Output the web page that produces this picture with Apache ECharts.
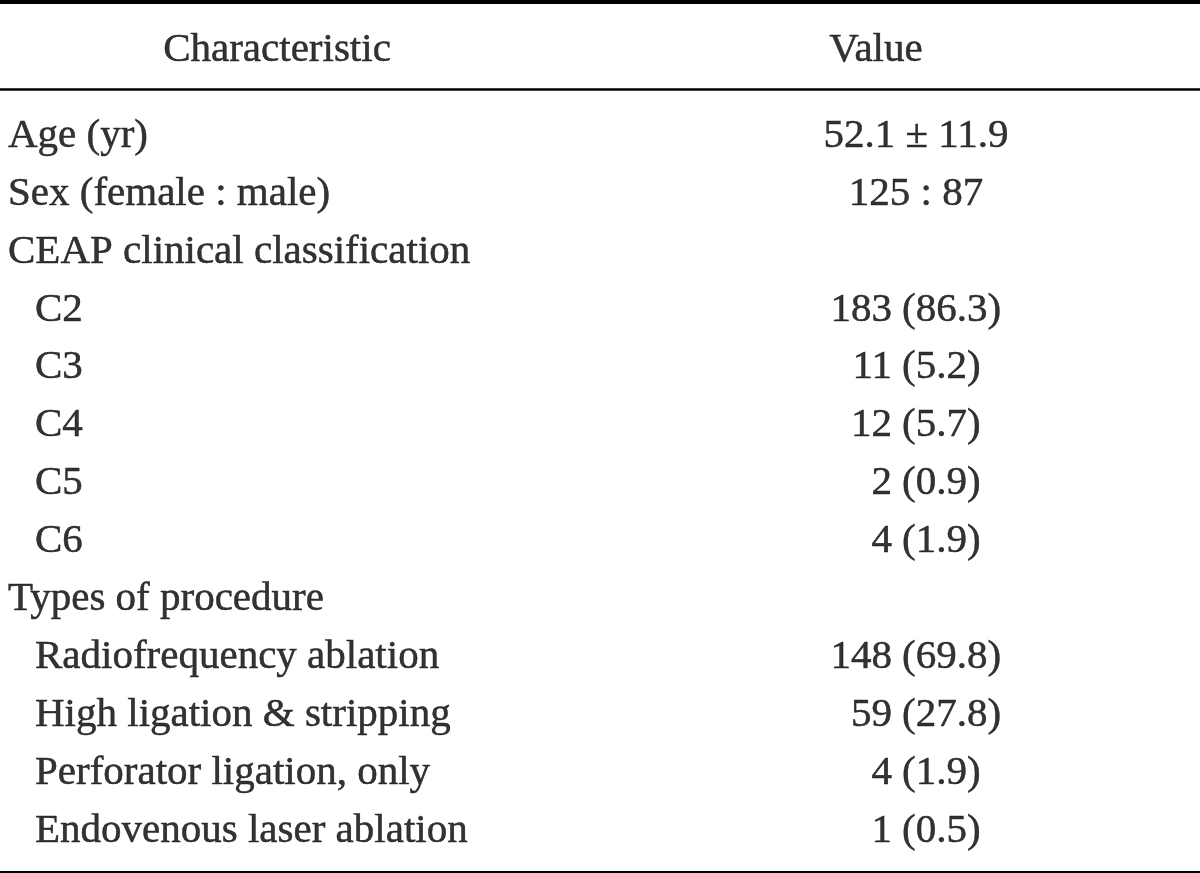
<!DOCTYPE html>
<html>
<head>
<meta charset="utf-8">
<script src="https://cdn.jsdelivr.net/npm/echarts@6/dist/echarts.min.js"></script>
<style>
  html, body { margin: 0; padding: 0; background: #fff; }
  #chart { width: 1200px; height: 873px; }
</style>
</head>
<body>
<div id="chart"></div>
<script>
// ---- data ----
const headers = ['Characteristic', 'Value'];
const rowLabels = [
  'Age (yr)',
  'Sex (female : male)',
  'CEAP clinical classification',
  'C2',
  'C3',
  'C4',
  'C5',
  'C6',
  'Types of procedure',
  'Radiofrequency ablation',
  'High ligation & stripping',
  'Perforator ligation, only',
  'Endovenous laser ablation'
];
const rowLevels = [0, 0, 0, 1, 1, 1, 1, 1, 0, 1, 1, 1, 1];
const summaryValues = ['52.1 ± 11.9', '125 : 87', null, null, null, null, null, null, null, null, null, null, null];
const counts = [null, null, null, 183, 11, 12, 2, 4, null, 148, 59, 4, 1];
const percents = [null, null, null, 86.3, 5.2, 5.7, 0.9, 1.9, null, 69.8, 27.8, 1.9, 0.5];

// ---- layout (pixels / row units) ----
const W = 1200, H = 873;
const firstRowY = 133, rowStep = 57.92;
const toRow = y => (y - firstRowY) / rowStep;
const yMin = toRow(0), yMax = toRow(H);
const headerRow = toRow(47);
const xLeft = [8, 35];
const xHeadChar = 277, xHeadVal = 876;
const xCountRight = 892, xPctLeft = 902, xSummary = 916;
const FONT = 'Liberation Serif';
const FS = 41;

const baseLabel = {
  show: true,
  color: '#000',
  fontFamily: FONT,
  fontSize: FS,
  fontWeight: 'normal',
  position: 'inside',
  verticalAlign: 'middle',
  offset: [0, 3],
  textBorderColor: '#000',
  textBorderWidth: 0.5
};

function textSeries(name, data, align) {
  return {
    name,
    type: 'scatter',
    symbol: 'circle',
    symbolSize: 1,
    itemStyle: { color: 'rgba(0,0,0,0)' },
    silent: true,
    data,
    label: Object.assign({}, baseLabel, {
      align,
      formatter: p => p.data[2]
    })
  };
}

const leftData = rowLabels.map((t, i) => [xLeft[rowLevels[i]], i, t]);
const countData = [];
const pctData = [];
counts.forEach((c, i) => {
  if (c !== null) countData.push([xCountRight, i, String(c)]);
});
percents.forEach((p, i) => {
  if (p !== null) pctData.push([xPctLeft, i, '(' + p.toFixed(1) + ')']);
});
const summaryData = [];
summaryValues.forEach((s, i) => {
  if (s !== null) summaryData.push([xSummary, i, s]);
});
const headerData = [[xHeadChar, headerRow, headers[0]], [xHeadVal, headerRow, headers[1]]];

const headerSeries = textSeries('header', headerData, 'center');
headerSeries.markLine = {
  silent: true,
  symbol: ['none', 'none'],
  label: { show: false },
  animation: false,
  data: [
    { yAxis: toRow(2), lineStyle: { color: '#000', width: 4, type: 'solid' } },
    { yAxis: toRow(89), lineStyle: { color: '#000', width: 2.5, type: 'solid' } },
    { yAxis: toRow(871.8), lineStyle: { color: '#000', width: 3, type: 'solid' } }
  ]
};

const chart = echarts.init(document.getElementById('chart'), null, { renderer: 'canvas' });
chart.setOption({
  animation: false,
  backgroundColor: '#fff',
  grid: { left: 0, right: 0, top: 0, bottom: 0, containLabel: false },
  xAxis: { type: 'value', min: 0, max: W, show: false },
  yAxis: { type: 'value', min: yMin, max: yMax, inverse: true, show: false },
  series: [
    headerSeries,
    textSeries('labels', leftData, 'left'),
    textSeries('summary', summaryData, 'center'),
    textSeries('counts', countData, 'right'),
    textSeries('percents', pctData, 'left')
  ]
});
</script>
</body>
</html>
